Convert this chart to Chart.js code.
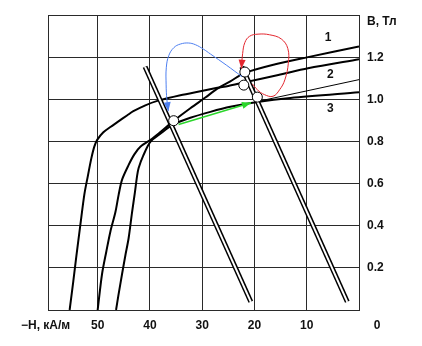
<!DOCTYPE html>
<html>
<head>
<meta charset="utf-8">
<script src="https://cdn.jsdelivr.net/npm/chart.js@4.4.1/dist/chart.umd.min.js"></script>
<style>
  html, body { margin: 0; padding: 0; background: #fff; }
  #wrap { width: 422px; height: 346px; }
</style>
</head>
<body>
<div id="wrap"><canvas id="chart" width="422" height="346"></canvas></div>
<script>
// Demagnetisation curves, -H in kA/m, B in T
const curve1H = [50.0, 49.16, 48.34, 47.57, 46.61, 45.98, 45.33, 44.07, 42.98, 41.83, 39.59, 38.0, 35.52, 32.27, 29.4, 27.1, 24.62, 21.94, 16.01, 9.76, 0];
const curve1B = [0, 0.171, 0.278, 0.372, 0.464, 0.548, 0.619, 0.689, 0.739, 0.775, 0.813, 0.845, 0.897, 0.958, 1.009, 1.051, 1.086, 1.125, 1.167, 1.201, 1.252];

const curve2H = [55.36, 54.65, 54.08, 53.31, 52.55, 51.88, 51.21, 50.64, 50.06, 48.91, 47.57, 46.23, 44.32, 43.17, 40.88, 38.58, 34.18, 30.35, 27.1, 25.0, 21.94, 15.44, 9.76, 0];
const curve2B = [0, 0.138, 0.255, 0.404, 0.548, 0.636, 0.72, 0.776, 0.809, 0.844, 0.869, 0.892, 0.925, 0.944, 0.972, 0.993, 1.02, 1.039, 1.055, 1.064, 1.081, 1.116, 1.148, 1.191];

const curve3H = [46.48, 46.04, 45.33, 44.7, 44.07, 43.42, 42.88, 42.46, 42.16, 41.26, 39.92, 38.01, 35.52, 32.27, 28.44, 24.62, 19.45, 13.14, 0];
const curve3B = [0, 0.068, 0.171, 0.259, 0.342, 0.464, 0.557, 0.636, 0.674, 0.734, 0.798, 0.837, 0.881, 0.913, 0.941, 0.965, 0.988, 1.007, 1.034];

// thin recoil line
const recoilH = [19.45, 0];
const recoilB = [0.99, 1.094];

// load lines (drawn double)
const loadLeftH = [40.93, 20.7];
const loadLeftB = [1.155, 0.039];
const loadRightH = [22.42, 2.24];
const loadRightB = [1.155, 0.039];

// operating points
const opH = [35.46, 21.84, 22.04, 19.45];
const opB = [0.899, 1.13, 1.068, 1.011];

// arrows between operating points
const blueH = [22.38, 25.38, 28.44, 29.78, 31.31, 32.65, 34.18, 35.42, 36.38, 36.86, 36.9, 36.76, 36.48];
const blueB = [1.108, 1.163, 1.216, 1.239, 1.26, 1.268, 1.263, 1.246, 1.209, 1.153, 1.069, 1.0, 0.944];
const redH = [20.41, 19.45, 18.11, 16.45, 15.19, 14.19, 13.52, 13.62, 14.86, 17.1, 19.32, 20.93, 21.84, 22.26, 22.51];
const redB = [1.074, 1.046, 1.023, 1.015, 1.046, 1.093, 1.172, 1.242, 1.287, 1.307, 1.31, 1.3, 1.27, 1.218, 1.146];
const greenH = [34.51, 20.66];
const greenB = [0.881, 0.984];

// axes
const hMax = 59.5;
const xGrid = [0, 10, 20, 30, 40, 50, hMax];
const xTickLabels = [50, 40, 30, 20, 10];
const yGrid = [0, 0.2, 0.4, 0.6, 0.8, 1.0, 1.2, 1.4];
const yTickLabels = [0.2, 0.4, 0.6, 0.8, 1.0, 1.2];
const xAxisTitle = '\u2212H, \u043a\u0410/\u043c';
const yAxisTitle = 'B, \u0422\u043b';
const originLabel = '0';

const curveNames = ['1', '2', '3'];
const curveNameH = [5.93, 5.49, 5.49];
const curveNameB = [1.294, 1.116, 0.958];

const FONT_FAMILY = '"Liberation Sans", Arial, sans-serif';
const GRID = '#2a2a2a';
const TEXT = '#111';

const zip = (hs, bs) => hs.map((h, i) => ({ x: h, y: bs[i] }));

function line(hs, bs, color, width, order, extra) {
  return Object.assign({
    data: zip(hs, bs),
    showLine: true,
    borderColor: color,
    borderWidth: width,
    pointRadius: 0,
    tension: 0.3,
    fill: false,
    order
  }, extra || {});
}

const datasets = [
  line(blueH, blueB, '#4d7ff0', 1, 0, { tension: 0.4, arrow: true }),
  line(redH, redB, '#e3262e', 1, 0, { tension: 0.4, arrow: true }),
  line(greenH, greenB, '#2bd62b', 1.5, 0, { tension: 0, arrow: true }),
  {
    data: zip(opH, opB),
    showLine: false,
    pointRadius: 5,
    pointBackgroundColor: '#fff',
    pointBorderColor: '#000',
    pointBorderWidth: 1,
    order: 1
  },
  line(loadLeftH, loadLeftB, '#fff', 2, 2, { tension: 0 }),
  line(loadRightH, loadRightB, '#fff', 2, 2, { tension: 0 }),
  line(loadLeftH, loadLeftB, '#000', 5, 3, { tension: 0 }),
  line(loadRightH, loadRightB, '#000', 5, 3, { tension: 0 }),
  line(curve1H, curve1B, '#000', 2, 4),
  line(curve2H, curve2B, '#000', 2, 4),
  line(curve3H, curve3B, '#000', 2, 4),
  line(recoilH, recoilB, '#000', 1, 4, { tension: 0 })
];

// arrow tips at the last point of flagged datasets
const arrowHeads = {
  id: 'arrowHeads',
  afterDatasetsDraw(chart) {
    const ctx = chart.ctx;
    chart.data.datasets.forEach((ds, i) => {
      if (!ds.arrow) return;
      const pts = chart.getDatasetMeta(i).data;
      const tip = pts[pts.length - 1];
      const prev = pts[pts.length - 2];
      const a = Math.atan2(tip.y - prev.y, tip.x - prev.x);
      const len = 9, half = 3.5;
      const bx = tip.x - len * Math.cos(a), by = tip.y - len * Math.sin(a);
      ctx.save();
      ctx.fillStyle = ds.borderColor;
      ctx.beginPath();
      ctx.moveTo(tip.x, tip.y);
      ctx.lineTo(bx + half * Math.sin(a), by - half * Math.cos(a));
      ctx.lineTo(bx - half * Math.sin(a), by + half * Math.cos(a));
      ctx.closePath();
      ctx.fill();
      ctx.restore();
    });
  }
};

// axis titles, origin label and curve numbers
const textLayer = {
  id: 'textLayer',
  afterDraw(chart) {
    const { ctx, chartArea, scales: { x, y } } = chart;
    const labelY = chartArea.bottom + 8 + 7.2;
    ctx.save();
    ctx.fillStyle = TEXT;
    ctx.font = 'bold 12px ' + FONT_FAMILY;
    ctx.textBaseline = 'middle';
    ctx.textAlign = 'left';
    ctx.fillText(xAxisTitle, 21, labelY);
    ctx.fillText(yAxisTitle, chartArea.right + 8, 21.5);
    ctx.textAlign = 'center';
    ctx.fillText(originLabel, chartArea.right + 18, labelY);
    curveNames.forEach((n, i) => {
      ctx.fillText(n, x.getPixelForValue(curveNameH[i]), y.getPixelForValue(curveNameB[i]));
    });
    ctx.restore();
  }
};

new Chart(document.getElementById('chart'), {
  type: 'scatter',
  data: { datasets },
  options: {
    responsive: false,
    animation: false,
    devicePixelRatio: 1,
    layout: { padding: { left: 48, top: 9, right: 0, bottom: 0 } },
    plugins: { legend: { display: false }, tooltip: { enabled: false } },
    scales: {
      x: {
        type: 'linear',
        reverse: true,
        min: 0,
        max: hMax,
        afterBuildTicks: s => { s.ticks = xGrid.map(v => ({ value: v })); },
        afterFit: s => { s.height = 36; },
        grid: { color: GRID, lineWidth: 1, drawTicks: false },
        border: { color: GRID, width: 1 },
        ticks: {
          padding: 8,
          color: TEXT,
          maxRotation: 0,
          autoSkip: false,
          font: { family: FONT_FAMILY, size: 12, weight: 'bold' },
          callback: v => xTickLabels.includes(v) ? String(v) : ''
        }
      },
      y: {
        type: 'linear',
        position: 'right',
        min: 0,
        max: 1.4,
        afterBuildTicks: s => { s.ticks = yGrid.map(v => ({ value: v })); },
        afterFit: s => { s.width = 63; },
        grid: { color: GRID, lineWidth: 1, drawTicks: false },
        border: { color: GRID, width: 1 },
        ticks: {
          padding: 8,
          color: TEXT,
          autoSkip: false,
          font: { family: FONT_FAMILY, size: 12, weight: 'bold' },
          callback: v => yTickLabels.includes(v) ? v.toFixed(1) : ''
        }
      }
    }
  },
  plugins: [arrowHeads, textLayer]
});
</script>
</body>
</html>
